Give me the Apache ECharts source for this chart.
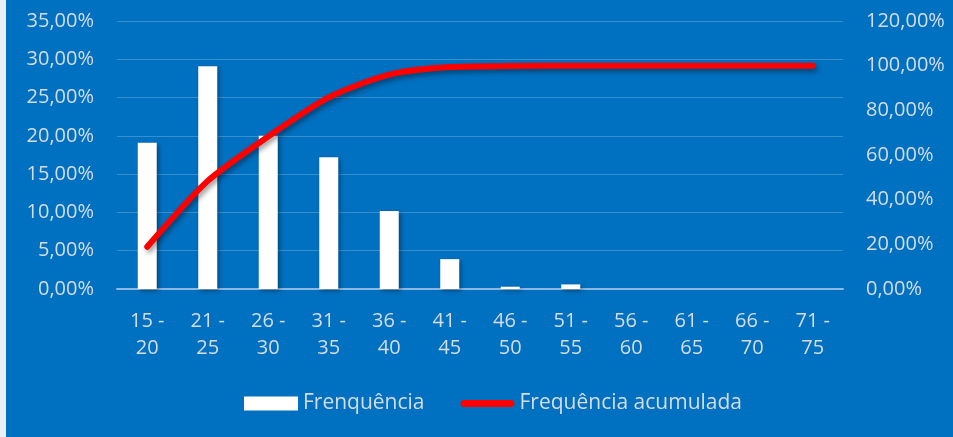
<!DOCTYPE html>
<html>
<head>
<meta charset="utf-8">
<script src="https://cdn.jsdelivr.net/npm/echarts@6/dist/echarts.min.js"></script>
<style>
html,body{margin:0;padding:0;background:#0070C0;}
#c{width:953px;height:437px;}
</style>
</head>
<body>
<div id="c"></div>
<script>
const categories = ['15 -\n20','21 -\n25','26 -\n30','31 -\n35','36 -\n40','41 -\n45','46 -\n50','51 -\n55','56 -\n60','61 -\n65','66 -\n70','71 -\n75'];
const frequencia = [19.1, 29.1, 20.0, 17.2, 10.2, 3.9, 0.3, 0.6, 0, 0, 0, 0];
const acumulada = [18.9, 48.4, 68.3, 85.8, 96.0, 99.4, 99.8, 100.0, 100.0, 100.0, 100.0, 100.0];
const leftTicks = {min: 0, max: 35, interval: 5};
const rightTicks = {min: 0, max: 120, interval: 20};

const fmt = v => v.toFixed(2).replace('.', ',') + '%';
const FONT = 'Open Sans';
const TXT = '#D6DCE4';

const chart = echarts.init(document.getElementById('c'));
chart.setOption({
  backgroundColor: '#0070C0',
  animation: false,
  textStyle: {fontFamily: FONT},
  graphic: [{type: 'rect', left: 0, top: 0, shape: {width: 6, height: 437}, style: {fill: '#EAF0F7'}}],
  grid: {left: 117, right: 110, top: 21, bottom: 148},
  legend: {
    top: 388, left: 239, itemWidth: 54, itemHeight: 14, itemGap: 36,
    textStyle: {color: TXT, fontSize: 21, fontFamily: FONT},
    data: [
      {name: 'Frenquência', icon: 'rect'},
      {name: 'Frequência acumulada', icon: 'path://M3.5,0 L50.5,0 A3.5,3.5 0 0 1 50.5,7 L3.5,7 A3.5,3.5 0 0 1 3.5,0 Z', itemStyle: {color: '#FF0000'}}
    ]
  },
  xAxis: {
    type: 'category', data: categories,
    axisLine: {lineStyle: {color: '#8DB8E2', width: 2}},
    axisTick: {show: false},
    axisLabel: {color: TXT, fontSize: 20, lineHeight: 27, margin: 19, interval: 0, fontFamily: FONT}
  },
  yAxis: [
    {type: 'value', min: leftTicks.min, max: leftTicks.max, interval: leftTicks.interval,
     axisLine: {show: false}, axisTick: {show: false},
     splitLine: {lineStyle: {color: 'rgba(255,255,255,0.22)', width: 1}},
     axisLabel: {color: TXT, fontSize: 20, margin: 23, formatter: fmt, fontFamily: FONT}},
    {type: 'value', min: rightTicks.min, max: rightTicks.max, interval: rightTicks.interval,
     axisLine: {show: false}, axisTick: {show: false}, splitLine: {show: false},
     axisLabel: {color: TXT, fontSize: 20, margin: 23, formatter: fmt, fontFamily: FONT}}
  ],
  series: [
    {name: 'Frenquência', type: 'bar', data: frequencia, yAxisIndex: 0, barWidth: 19,
     itemStyle: {color: '#FFFFFF', shadowColor: 'rgba(0,0,0,0.35)', shadowBlur: 4, shadowOffsetX: 2, shadowOffsetY: 2}},
    {name: 'Frequência acumulada', type: 'line', data: acumulada, yAxisIndex: 1, smooth: 0.25,
     symbol: 'none',
     lineStyle: {color: '#FF0000', width: 6, cap: 'round', join: 'round', shadowColor: 'rgba(0,0,0,0.4)', shadowBlur: 5, shadowOffsetX: 2, shadowOffsetY: 3},
     itemStyle: {color: '#FF0000'}}
  ]
});
</script>
</body>
</html>
